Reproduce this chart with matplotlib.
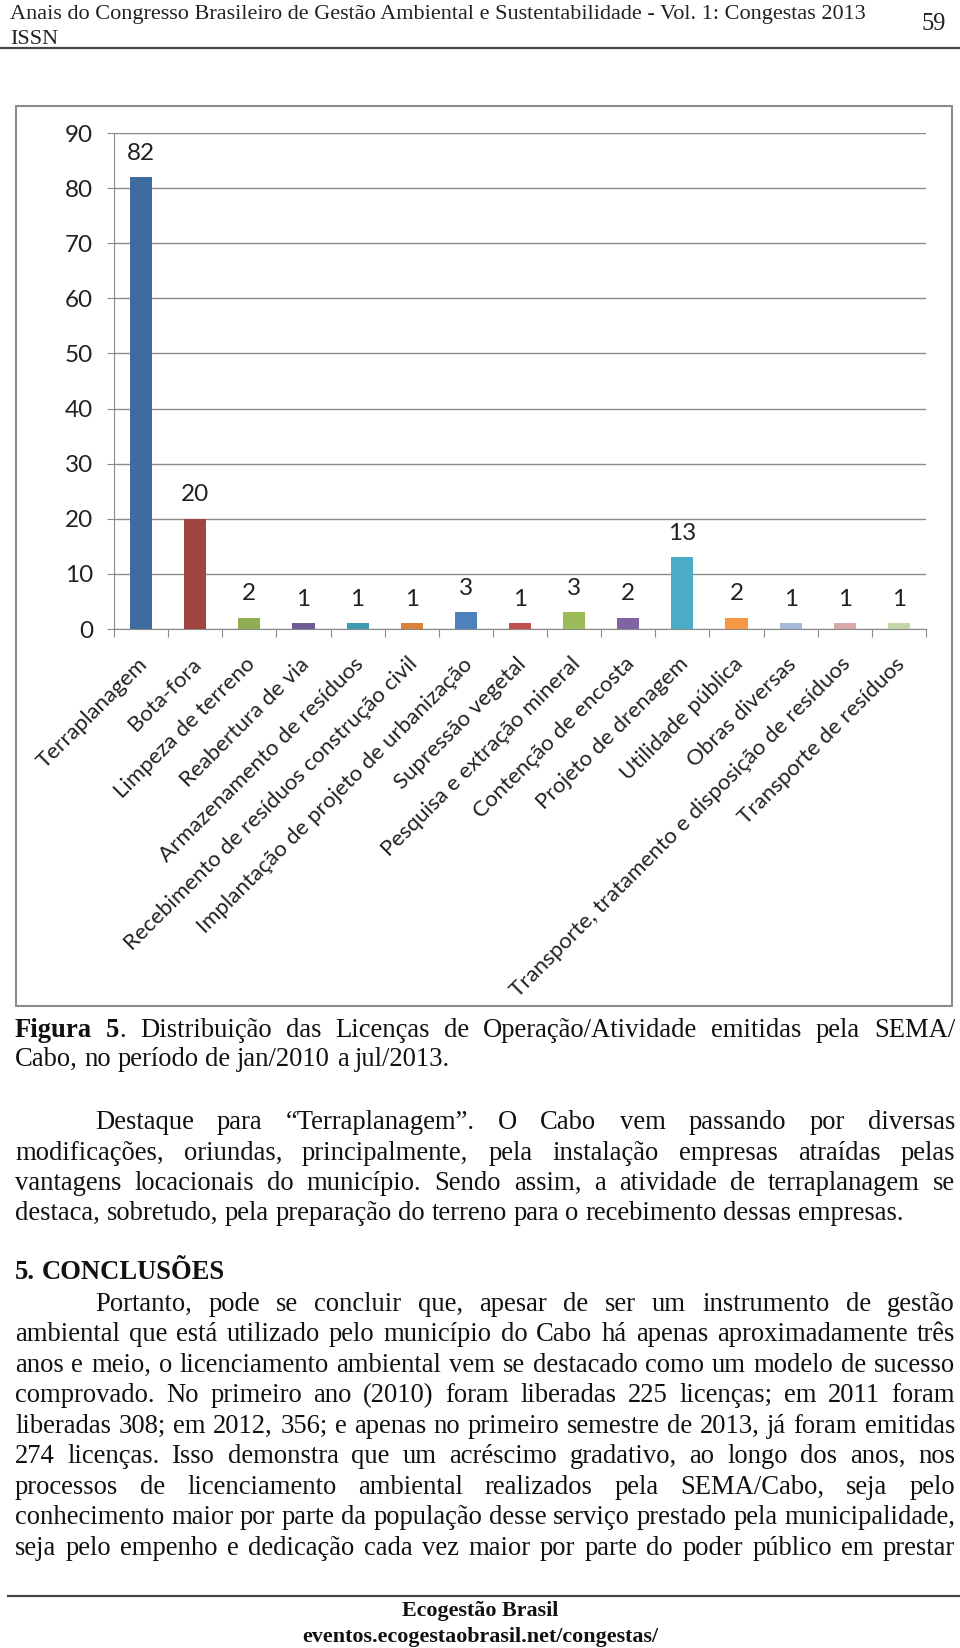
import matplotlib
matplotlib.use("Agg")
import matplotlib.pyplot as plt
import numpy as np
from matplotlib.font_manager import FontProperties
from matplotlib.patches import Rectangle
from matplotlib.lines import Line2D

plt.rcParams['font.family'] = ['Lato', 'DejaVu Sans']

# chart data
categorias = ['Terraplanagem', 'Bota-fora', 'Limpeza de terreno', 'Reabertura de via',
              'Armazenamento de resíduos', 'Recebimento de resíduos construção civil',
              'Implantação de projeto de urbanização', 'Supressão vegetal',
              'Pesquisa e extração mineral', 'Contenção de encosta', 'Projeto de drenagem',
              'Utilidade pública', 'Obras diversas',
              'Transporte, tratamento e disposição de resíduos', 'Transporte de resíduos']
licencas = [82, 20, 2, 1, 1, 1, 3, 1, 3, 2, 13, 2, 1, 1, 1]
cores = ['#3F6C9F', '#A2443F', '#8FAE54', '#6F5A93', '#3E9AB3', '#DC8238', '#4F81BD',
         '#C0504D', '#9BBB59', '#8064A2', '#4BACC6', '#F79646', '#A7B9D8', '#D8A7A9',
         '#C4D5A8']
yticks = list(range(0, 91, 10))

# page text
cabecalho = 'Anais do Congresso Brasileiro de Gestão Ambiental e Sustentabilidade - Vol. 1: Congestas 2013'
legenda = [[('Figura 5', True), ('. Distribuição das Licenças de Operação/Atividade emitidas pela SEMA/', False)],
           [('Cabo, no período de jan/2010 a jul/2013.', False)]]
par1 = ['Destaque para “Terraplanagem”. O Cabo vem passando por diversas',
        'modificações, oriundas, principalmente, pela instalação empresas atraídas pelas',
        'vantagens locacionais do município. Sendo assim, a atividade de terraplanagem se',
        'destaca, sobretudo, pela preparação do terreno para o recebimento dessas empresas.']
par2 = ['Portanto, pode se concluir que, apesar de ser um instrumento de gestão',
        'ambiental que está utilizado pelo município do Cabo há apenas aproximadamente três',
        'anos e meio, o licenciamento ambiental vem se destacado como um modelo de sucesso',
        'comprovado. No primeiro ano (2010) foram liberadas 225 licenças; em 2011 foram',
        'liberadas 308; em 2012, 356; e apenas no primeiro semestre de 2013, já foram emitidas',
        '274 licenças. Isso demonstra que um acréscimo gradativo, ao longo dos anos, nos',
        'processos de licenciamento ambiental realizados pela SEMA/Cabo, seja pelo',
        'conhecimento maior por parte da população desse serviço prestado pela municipalidade,',
        'seja pelo empenho e dedicação cada vez maior por parte do poder público em prestar']
rodape = ['Ecogestão Brasil', 'eventos.ecogestaobrasil.net/congestas/']

W, H = 960, 1648
fig = plt.figure(figsize=(W / 100, H / 100), dpi=100)
renderer = fig.canvas.get_renderer()
SERIF = 'Liberation Serif'
GRAY = '#8a8a8a'


def tw(s, size, bold=False, family=SERIF):
    prop = FontProperties(family=family, size=size, weight='bold' if bold else 'normal')
    return renderer.get_text_width_height_descent(s, prop, ismath=False)[0]


def words_of(segs):
    words = [[]]
    for t, b in segs:
        for k, p in enumerate(t.split(' ')):
            if k > 0:
                words.append([])
            if p:
                words[-1].append((p, b))
    return [w for w in words if w]


def linha(segs, y, size, x0=15, x1=955, justify=True):
    if isinstance(segs, str):
        segs = [(segs, False)]
    words = words_of(segs)
    widths = [sum(tw(t, size, b) for t, b in w) for w in words]
    if justify and len(words) > 1:
        gap = (x1 - x0 - sum(widths)) / (len(words) - 1)
    else:
        gap = tw('a a', size) - tw('aa', size)
    x = x0
    for w, wd in zip(words, widths):
        for t, b in w:
            fig.text(x / W, 1 - y / H, t, fontsize=size, fontfamily=SERIF,
                     fontweight='bold' if b else 'normal', color='#111111',
                     ha='left', va='baseline')
            x += tw(t, size, b)
        x += gap


# font sizes fitted to measured line widths
FS = 10 * 891 / tw(par1[3], 10)
FS_HEAD = 10 * 860 / tw(cabecalho, 10)
FS_FOOT = 10 * 355 / tw(rodape[1], 10, bold=True)
FS_CAT = 10 * 472 / tw(categorias[13], 10, family='Lato')

# ---- chart ----
ax = fig.add_axes([114 / W, 1 - 629 / H, (926 - 114) / W, (629 - 133) / H])
x = np.arange(len(categorias))
ax.bar(x, licencas, width=0.41, color=cores, zorder=3)
ax.set_xlim(-0.5, len(categorias) - 0.5)
ax.set_ylim(0, 90)
ax.set_yticks(yticks)
ax.set_xticks(np.arange(-0.5, len(categorias), 1))
ax.set_xticklabels([])
ax.yaxis.grid(True, color=GRAY, lw=1.0)
ax.set_axisbelow(True)
for s in ['top', 'right']:
    ax.spines[s].set_visible(False)
for s in ['left', 'bottom']:
    ax.spines[s].set_color(GRAY)
ax.tick_params(axis='y', length=5, color=GRAY, labelsize=17.5, pad=10, labelcolor='#222222')
ax.tick_params(axis='x', length=5.5, color=GRAY)

for xi, v in zip(x, licencas):
    ax.annotate(str(v), (xi, v), xytext=(0, 24), textcoords='offset pixels',
                ha='center', va='center', fontsize=17.5, color='#222222')
for xi, cat in zip(x, categorias):
    ax.annotate(cat, (xi, 0), xycoords=('data', 'axes fraction'), xytext=(3, -32),
                textcoords='offset pixels', rotation=45, ha='right', va='center',
                rotation_mode='anchor', fontsize=FS_CAT, color='#222222')

fig.add_artist(Rectangle((16 / W, 1 - 1006 / H), (952 - 16) / W, (1006 - 106) / H,
                         transform=fig.transFigure, fill=False, ec=GRAY, lw=1.5))

# ---- header / footer ----
fig.text(10 / W, 1 - 19 / H, cabecalho, fontsize=FS_HEAD, fontfamily=SERIF, color='#222222')
fig.text(10 / W, 1 - 44 / H, 'ISSN', fontsize=FS_HEAD, fontfamily=SERIF, color='#222222')
fig.text(946 / W, 1 - 30 / H, '59', fontsize=FS_HEAD * 1.1, fontfamily=SERIF, ha='right', color='#222222')
fig.add_artist(Line2D([0, 1], [1 - 48 / H] * 2, color='#444444', lw=1.6))
fig.add_artist(Line2D([8 / W, 1], [1 - 1596 / H] * 2, color='#444444', lw=1.6))
fig.text(0.5, 1 - 1616 / H, rodape[0], fontsize=FS_FOOT, fontfamily=SERIF,
         fontweight='bold', ha='center', color='#111111')
fig.text(0.5, 1 - 1642 / H, rodape[1], fontsize=FS_FOOT,
         fontfamily=SERIF, fontweight='bold', ha='center', color='#111111')

# ---- body text ----
linha(legenda[0], 1037, FS)
linha(legenda[1], 1066, FS, justify=False)
ys1 = [1129, 1160, 1190, 1220]
for i, (s, y) in enumerate(zip(par1, ys1)):
    linha(s, y, FS, x0=95 if i == 0 else 15, justify=i < len(par1) - 1)
linha([('5. CONCLUSÕES', True)], 1279, FS, justify=False)
ys2 = [1311, 1341, 1372, 1402, 1433, 1463, 1494, 1524, 1555]
for i, (s, y) in enumerate(zip(par2, ys2)):
    linha(s, y, FS, x0=95 if i == 0 else 15)

fig.savefig('out.png', dpi=100, facecolor='white')
